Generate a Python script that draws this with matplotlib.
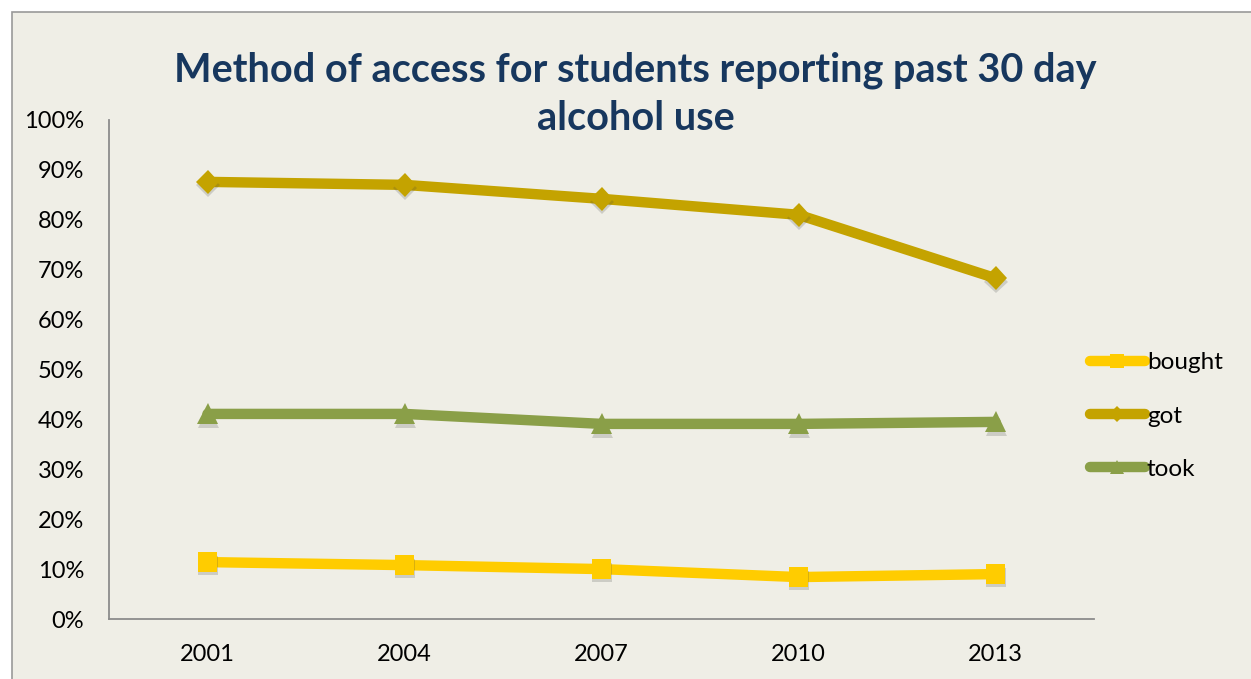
import matplotlib.pyplot as plt
import matplotlib.patheffects as pe
from matplotlib.patches import Rectangle
from matplotlib.lines import Line2D

years = ['2001', '2004', '2007', '2010', '2013']
bought = [11.4, 10.8, 10.0, 8.4, 9.0]
got = [87.6, 87.0, 84.2, 81.0, 68.3]
took = [41.1, 41.1, 39.1, 39.1, 39.5]

series_names = ['bought', 'got', 'took']
colors = ['#FFCC00', '#C4A300', '#8A9F48']
markers = ['s', 'D', '^']
msizes = [14, 12, 15]

bg = '#EFEEE6'
plt.rcParams['font.family'] = ['Lato', 'DejaVu Sans']

fig = plt.figure(figsize=(12.51, 6.79), dpi=100, facecolor='white')
# chart frame
fig.patches.append(Rectangle((12 / 1251, -0.1), 1.2, 1.1 - 12 / 679,
                             transform=fig.transFigure, facecolor=bg,
                             edgecolor='#999999', linewidth=1.2, zorder=-10))

ax = fig.add_axes([109 / 1251, 1 - 619 / 679, 985 / 1251, 499 / 679])
ax.set_facecolor('none')

x = list(range(len(years)))
shadow = [pe.SimplePatchShadow(offset=(0.5, -2.5), alpha=0.2, shadow_rgbFace='#444444'), pe.Normal()]
for vals, c, m, ms in zip([bought, got, took], colors, markers, msizes):
    ax.plot(x, vals, color=c, linewidth=7.5, solid_capstyle='round', zorder=2)
    ax.plot(x, vals, linestyle='none', marker=m, markersize=ms, color=c,
            markeredgewidth=0, zorder=3, path_effects=shadow)

ax.set_xlim(-0.5, 4.5)
ax.set_ylim(0, 100)
ax.set_xticks(x)
ax.set_xticklabels(years)
ax.set_yticks(range(0, 101, 10))
ax.set_yticklabels([f'{v}%' for v in range(0, 101, 10)])
ax.tick_params(length=0, labelsize=17, colors='black')
ax.tick_params(axis='y', pad=18)
ax.tick_params(axis='x', pad=18)
for s in ['top', 'right']:
    ax.spines[s].set_visible(False)
for s in ['left', 'bottom']:
    ax.spines[s].set_color('#8C8C8C')
    ax.spines[s].set_linewidth(1.3)

fig.text(0.508, 1 - 70 / 679, 'Method of access for students reporting past 30 day',
         ha='center', va='center', fontsize=28.5, fontweight='bold', color='#17375E')
fig.text(0.508, 1 - 118 / 679, 'alcohol use',
         ha='center', va='center', fontsize=28.5, fontweight='bold', color='#17375E')

handles = [Line2D([], [], color=c, linewidth=7.5, solid_capstyle='round',
                  marker=m, markersize=ms * 0.7, markeredgewidth=0)
           for c, m, ms in zip(colors, markers, msizes)]
fig.legend(handles, series_names, loc='center left',
           bbox_to_anchor=(1068 / 1251, 1 - 416 / 679), frameon=False,
           fontsize=17.5, handlelength=2.25, handletextpad=0.1, labelspacing=1.32)

fig.savefig('out.png', dpi=100, facecolor=fig.get_facecolor())
